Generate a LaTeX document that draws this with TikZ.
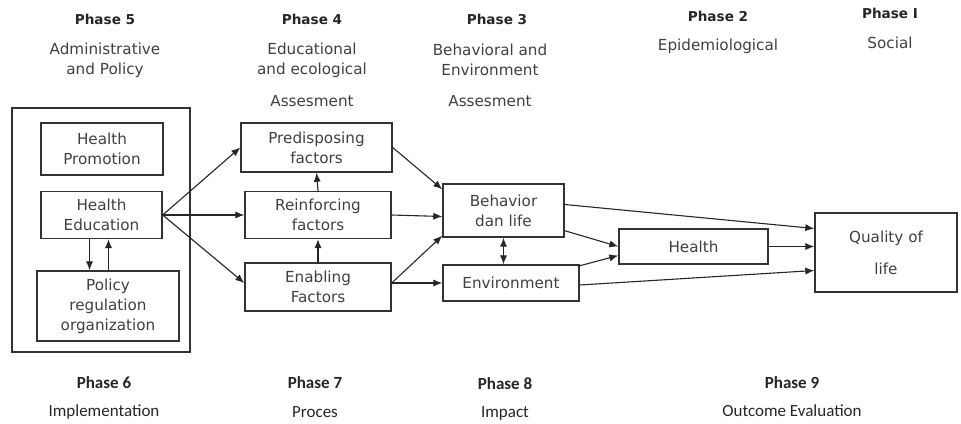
\documentclass[tikz,border=0pt]{standalone}
\usepackage{fontspec}
\setmainfont{DejaVu Sans}
\newfontfamily\carlito{Carlito}
\usetikzlibrary{arrows.meta,positioning}
\begin{document}
\begin{tikzpicture}[x=0.5pt,y=-0.5pt,>={Latex[length=4.5pt,width=3.6pt]},
  box/.style={draw=black!80,line width=0.7pt,inner sep=0pt,align=center,
    font=\fontsize{7.6}{10}\selectfont,text=black!75},
  phase/.style={font=\bfseries\fontsize{6.8}{8}\selectfont,text=black!85},
  stage/.style={align=center,font=\fontsize{7.6}{10}\selectfont,text=black!75},
  evalphase/.style={font=\carlito\bfseries\fontsize{8.5}{10}\selectfont,text=black!85},
  evaltext/.style={font=\carlito\fontsize{8.5}{10}\selectfont,text=black!85},
  every edge/.style={draw=black!85,line width=0.55pt}]
\useasboundingbox (0,0) rectangle (961,423);

\node[phase] (phase_5) at (105,19) {Phase 5};
\node[stage] (admin) at (105,60) {Administrative\\and Policy};
\node[phase] (phase_4) at (312,19) {Phase 4};
\node[stage] (educ) at (312,60) {Educational\\and ecological};
\node[stage] (educ_ass) at (312,101) {Assesment};
\node[phase] (phase_3) at (497,19) {Phase 3};
\node[stage] (behav) at (490,60) {Behavioral and\\Environment};
\node[stage] (behav_ass) at (490,101) {Assesment};
\node[phase] (phase_2) at (718,16) {Phase 2};
\node[stage] (epid) at (718,46) {Epidemiological};
\node[phase] (phase_1) at (890,13) {Phase I};
\node[stage] (social) at (890,43) {Social};

\node[box,minimum width=89pt,minimum height=122pt] (outer) at (101,230) {};
\node[box,minimum width=61pt,minimum height=26pt] (health_promo) at (102,149) {Health\\Promotion};
\node[box,minimum width=60.5pt,minimum height=23.5pt] (health_edu) at (101.5,215) {Health\\Education};
\node[box,minimum width=71pt,minimum height=35pt] (policy) at (108,306) {Policy\\regulation\\organization};
\node[box,minimum width=75.5pt,minimum height=24.5pt] (predisposing) at (316.5,147.5) {Predisposing\\factors};
\node[box,minimum width=73pt,minimum height=23.5pt] (reinforcing) at (318,215) {Reinforcing\\factors};
\node[box,minimum width=73pt,minimum height=24pt] (enabling) at (318,287) {Enabling\\Factors};
\node[box,minimum width=60.5pt,minimum height=26.5pt] (behavior) at (503.5,210.5) {Behavior\\dan life};
\node[box,minimum width=68pt,minimum height=18pt] (environment) at (511,283) {Environment};
\node[box,minimum width=74.5pt,minimum height=17.5pt] (health) at (693.5,246.5) {Health};
\node[box,minimum width=71pt,minimum height=39.5pt] (quality) at (886,252.5) {Quality of\\[6pt]life};

\node[evalphase] (phase_6) at (104,383) {Phase 6};
\node[evaltext] (implement) at (104,412) {Implementation};
\node[evalphase] (phase_7) at (315,383) {Phase 7};
\node[evaltext] (proces) at (315,412) {Proces};
\node[evalphase] (phase_8) at (505,384) {Phase 8};
\node[evaltext] (impact) at (505,413) {Impact};
\node[evalphase] (phase_9) at (792,383) {Phase 9};
\node[evaltext] (outcome) at (792,411) {Outcome Evaluation};

\path[->]
  (health_edu.east) edge (predisposing.west)
                    edge (reinforcing.west)
                    edge ([yshift=2pt]enabling.west)
  ([xshift=-6pt]health_edu.south) edge ([xshift=-6pt]health_edu.south |- policy.north)
  ([xshift=3.5pt]health_edu.south |- policy.north) edge ([xshift=3.5pt]health_edu.south)
  (reinforcing.north) edge (predisposing.south)
  (enabling.north) edge (reinforcing.south)
  (predisposing.east) edge ([yshift=-3pt]behavior.north west)
  (reinforcing.east) edge ([yshift=-3pt]behavior.west)
  ([yshift=2pt]enabling.east) edge ([yshift=1pt]behavior.south west)
  ([yshift=2pt]enabling.east) edge (environment.west)
  ([yshift=3pt]behavior.east) edge ([yshift=12pt]quality.west)
  ([yshift=3.5pt]behavior.south east) edge (health.west)
  ([xshift=-1pt,yshift=-1pt]environment.north east) edge ([yshift=-4.5pt]health.west)
  ([yshift=-1pt]environment.east) edge ([yshift=-9pt]quality.west)
  (health.east) edge ([yshift=3pt]quality.west);
\path[<->] (behavior.south) edge (behavior.south |- environment.north);
\end{tikzpicture}
\end{document}
